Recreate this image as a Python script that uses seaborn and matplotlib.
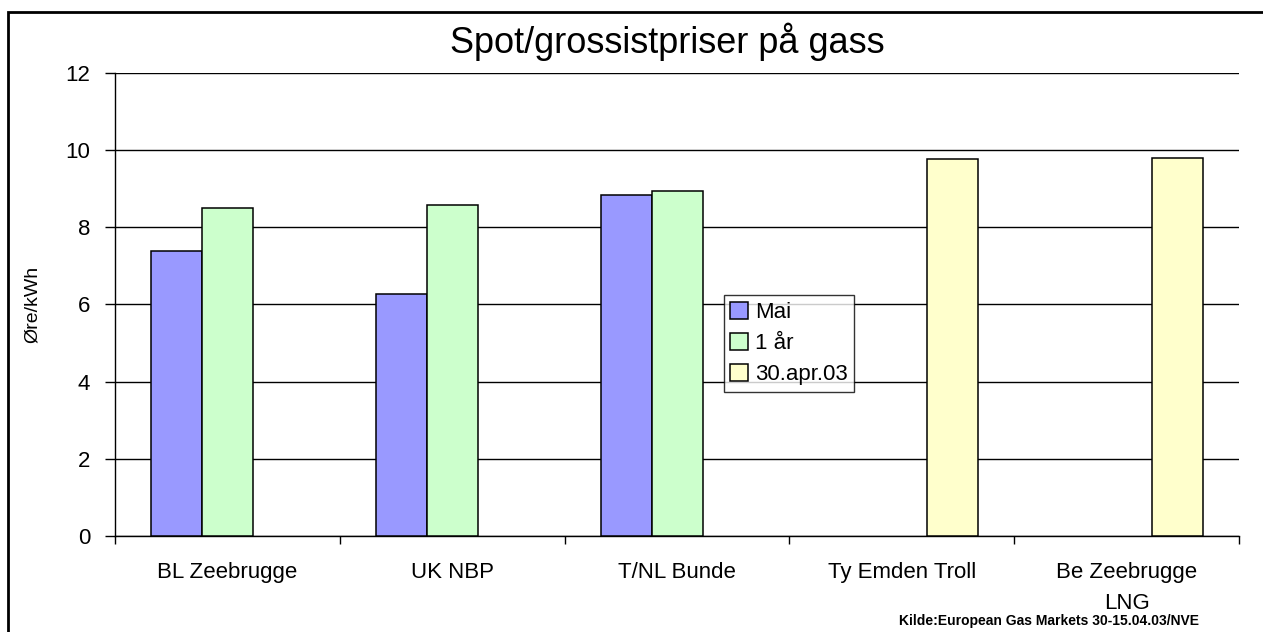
import matplotlib
matplotlib.use("Agg")
import matplotlib.pyplot as plt
import pandas as pd
import seaborn as sns
from matplotlib.patches import Rectangle
from matplotlib.ticker import FixedLocator, NullFormatter

# data
categories = ["BL Zeebrugge", "UK NBP", "T/NL Bunde", "Ty Emden Troll", "Be Zeebrugge\nLNG"]
series = ["Mai", "1 år", "30.apr.03"]
mai = [7.38, 6.27, 8.83, None, None]
ett_aar = [8.51, 8.59, 8.94, None, None]
apr03 = [None, None, None, 9.76, 9.80]
colors = ["#9999FF", "#CCFFCC", "#FFFFCC"]

rows = []
for name, vals in zip(series, [mai, ett_aar, apr03]):
    for cat, v in zip(categories, vals):
        if v is not None:
            rows.append({"sted": cat, "serie": name, "verdi": v})
df = pd.DataFrame(rows)

sns.set_style("white")
plt.rcParams["font.family"] = ["Liberation Sans", "DejaVu Sans"]
for key in ["text.color", "axes.labelcolor", "xtick.color", "ytick.color"]:
    plt.rcParams[key] = "black"

fig = plt.figure(figsize=(12.63, 6.32), dpi=100)
ax = fig.add_axes([0.0911, 0.152, 0.8899, 0.7325])

sns.barplot(data=df, x="sted", y="verdi", hue="serie", order=categories,
            hue_order=series, palette=colors, saturation=1, width=0.68,
            errorbar=None, edgecolor="black", linewidth=1.1, dodge=True,
            ax=ax, zorder=3)

ax.set_ylim(0, 12)
ax.set_yticks(range(0, 13, 2))
ax.set_xlim(-0.5, 4.5)
ax.yaxis.grid(True, color="black", linewidth=1)
ax.set_axisbelow(True)
for side in ["top", "right"]:
    ax.spines[side].set_visible(False)
for side in ["left", "bottom"]:
    ax.spines[side].set_color("black")
    ax.spines[side].set_linewidth(1)

ax.tick_params(axis="y", direction="out", length=7, width=1, color="black",
               labelsize=16, pad=11, left=True)
ax.tick_params(axis="x", which="major", length=0, labelsize=16, pad=19)
ax.xaxis.set_minor_locator(FixedLocator([-0.5, 0.5, 1.5, 2.5, 3.5, 4.5]))
ax.xaxis.set_minor_formatter(NullFormatter())
ax.tick_params(axis="x", which="minor", direction="out", length=6, width=1,
               color="black", bottom=True)
for lbl in ax.get_xticklabels():
    lbl.set_linespacing(1.6)
ax.set_xlabel("")
ax.set_ylabel("Øre/kWh", fontsize=14)
ax.yaxis.set_label_coords(-0.066, 0.5)

leg = ax.legend(loc="upper left", bbox_to_anchor=(0.573, 0.533),
                bbox_transform=fig.transFigure, frameon=True, fancybox=False,
                shadow=False, fontsize=16, handlelength=0.8, handleheight=0.8,
                handletextpad=0.3, borderpad=0.3, labelspacing=0.45,
                borderaxespad=0, edgecolor="black")
leg.get_frame().set_linewidth(1)

fig.text(0.528, 0.934, "Spot/grossistpriser på gass", ha="center", va="center",
         fontsize=26)
fig.text(0.949, 0.017, "Kilde:European Gas Markets 30-15.04.03/NVE",
         ha="right", va="center", fontsize=10, fontweight="bold")

# frame around the whole chart
fig.patches.append(Rectangle((8 / 1263, -0.05), 1.2, 1 - 12 / 632 + 0.05,
                             transform=fig.transFigure, fill=False,
                             edgecolor="black", linewidth=2))

fig.savefig("out.png", dpi=100)
